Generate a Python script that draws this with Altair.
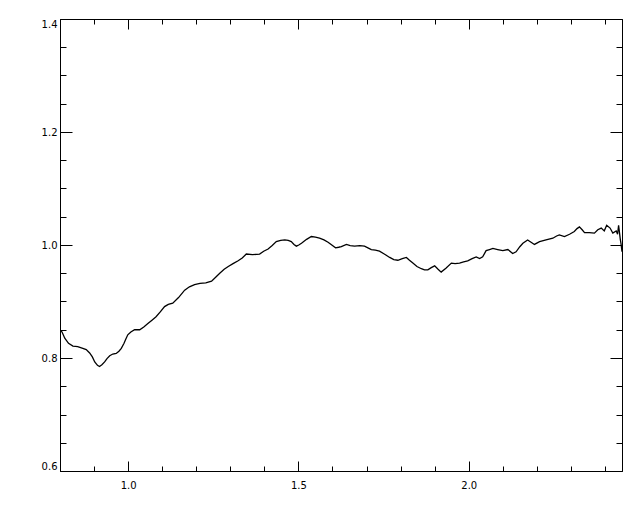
import altair as alt
import pandas as pd

# ---- data ----
wavelength = [
    0.800, 0.806, 0.814, 0.825, 0.838, 0.852, 0.867, 0.877, 0.887, 0.895,
    0.902, 0.910, 0.916, 0.923, 0.931, 0.938, 0.946, 0.955, 0.965, 0.973,
    0.980, 0.988, 0.993, 0.999, 1.008, 1.019, 1.034, 1.046, 1.058, 1.070,
    1.082, 1.095, 1.107, 1.118, 1.131, 1.148, 1.166, 1.180, 1.195, 1.211,
    1.228, 1.245, 1.257, 1.269, 1.282, 1.294, 1.308, 1.323, 1.335, 1.347,
    1.365, 1.386, 1.398, 1.411, 1.423, 1.435, 1.448, 1.460, 1.470, 1.479,
    1.487, 1.494, 1.501, 1.509, 1.524, 1.538, 1.550, 1.562, 1.575, 1.587,
    1.598, 1.609, 1.618, 1.626, 1.641, 1.652, 1.665, 1.680, 1.694, 1.704,
    1.714, 1.726, 1.738, 1.752, 1.768, 1.780, 1.792, 1.805, 1.817, 1.826,
    1.836, 1.848, 1.861, 1.870, 1.880, 1.890, 1.900, 1.910, 1.919, 1.933,
    1.949, 1.960, 1.973, 1.985, 1.997, 2.010, 2.022, 2.032, 2.041, 2.051,
    2.061, 2.071, 2.085, 2.100, 2.115, 2.129, 2.139, 2.150, 2.159, 2.173,
    2.183, 2.193, 2.208, 2.227, 2.247, 2.258, 2.266, 2.281, 2.296, 2.310,
    2.318, 2.325, 2.333, 2.340, 2.354, 2.369, 2.379, 2.389, 2.398, 2.405,
    2.415, 2.423, 2.433, 2.437, 2.440, 2.445, 2.447, 2.450,
]
ratio = [
    0.850, 0.846, 0.835, 0.826, 0.821, 0.820, 0.817, 0.815, 0.809, 0.802,
    0.793, 0.787, 0.785, 0.788, 0.793, 0.799, 0.804, 0.807, 0.808, 0.812,
    0.817, 0.826, 0.833, 0.841, 0.846, 0.850, 0.850, 0.855, 0.861, 0.867,
    0.873, 0.882, 0.891, 0.895, 0.897, 0.907, 0.920, 0.926, 0.930, 0.932,
    0.933, 0.936, 0.943, 0.950, 0.957, 0.962, 0.967, 0.972, 0.977, 0.984,
    0.983, 0.984, 0.989, 0.993, 0.999, 1.006, 1.008, 1.009, 1.008, 1.006,
    1.001, 0.998, 1.000, 1.003, 1.010, 1.015, 1.014, 1.012, 1.009, 1.005,
    1.000, 0.995, 0.996, 0.997, 1.001, 0.999, 0.998, 0.999, 0.998, 0.995,
    0.992, 0.991, 0.989, 0.984, 0.978, 0.974, 0.973, 0.976, 0.978, 0.973,
    0.968, 0.962, 0.958, 0.956, 0.956, 0.960, 0.963, 0.957, 0.952, 0.959,
    0.968, 0.967, 0.968, 0.970, 0.972, 0.976, 0.979, 0.976, 0.979, 0.990,
    0.992, 0.994, 0.992, 0.990, 0.992, 0.985, 0.988, 0.997, 1.003, 1.009,
    1.005, 1.001, 1.006, 1.009, 1.012, 1.016, 1.018, 1.015, 1.019, 1.024,
    1.029, 1.032, 1.027, 1.022, 1.022, 1.021, 1.027, 1.030, 1.025, 1.035,
    1.030, 1.021, 1.025, 1.019, 1.035, 1.010, 1.003, 0.988,
]

x_major = [1.0, 1.5, 2.0]
x_minor = [0.8, 0.9, 1.0, 1.1, 1.2, 1.3, 1.4, 1.5, 1.6, 1.7, 1.8, 1.9,
           2.0, 2.1, 2.2, 2.3, 2.4]
y_major = [0.6, 0.8, 1.0, 1.2, 1.4]
y_minor = [0.6, 0.65, 0.7, 0.75, 0.8, 0.85, 0.9, 0.95, 1.0, 1.05, 1.1,
           1.15, 1.2, 1.25, 1.3, 1.35, 1.4]
x_domain = [0.8, 2.45]
y_domain = [0.6, 1.4]

df = pd.DataFrame({"x": wavelength, "y": ratio})

FONT = "DejaVu Sans"
xs = alt.Scale(domain=x_domain, nice=False, zero=False)
ys = alt.Scale(domain=y_domain, nice=False, zero=False)


def ax(orient, values, size, labels=False, pad=3):
    kw = dict(
        orient=orient, values=values, tickSize=size, offset=-size,
        domain=False, grid=False, title=None, labels=labels,
        tickColor="black", tickWidth=1,
    )
    if labels:
        kw.update(labelFont=FONT, labelFontSize=10, labelColor="black",
                  labelPadding=pad, format=".1f")
        if orient in ("left", "right"):
            kw.update(labelFlush=True)
    return alt.Axis(**kw)


base = alt.Chart(df)

main = base.mark_line(color="black", strokeWidth=1.3, clip=True).encode(
    x=alt.X("x:Q", scale=xs, axis=ax("bottom", x_major, 10, True, 9)),
    y=alt.Y("y:Q", scale=ys, axis=ax("left", y_major, 12, True, 3)),
)


def ghost(xa, ya):
    return base.mark_line(opacity=0, clip=True).encode(
        x=alt.X("x:Q", scale=xs, axis=xa),
        y=alt.Y("y:Q", scale=ys, axis=ya),
    )


layers = [
    main,
    ghost(ax("top", x_major, 10), ax("right", y_major, 12)),
    ghost(ax("bottom", x_minor, 5), ax("left", y_minor, 6)),
    ghost(ax("top", x_minor, 5), ax("right", y_minor, 6)),
]

chart = alt.layer(*layers).resolve_axis(
    x="independent", y="independent"
).properties(
    width=562, height=452,
    autosize=alt.AutoSizeParams(type="none"),
    padding={"left": 52, "top": 11, "right": 10, "bottom": 30},
    background="white",
).configure_view(stroke="black", strokeWidth=1)

chart.save("out.html", embed_options={"renderer": "svg", "actions": False})
